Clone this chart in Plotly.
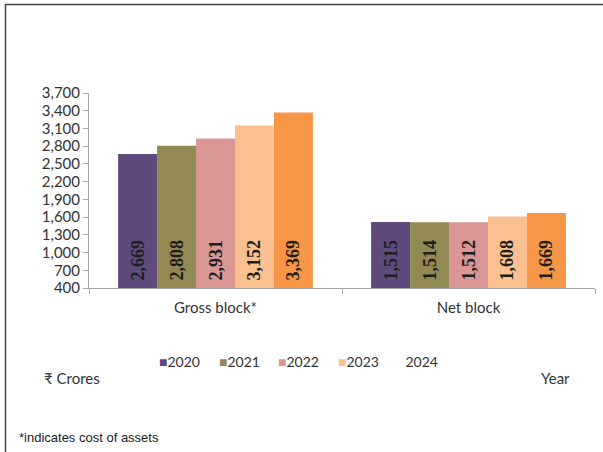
import plotly.graph_objects as go

categories = ["Gross block*", "Net block"]
years = ["2020", "2021", "2022", "2023", "2024"]
values = {
    "2020": [2669, 1515],
    "2021": [2808, 1514],
    "2022": [2931, 1512],
    "2023": [3152, 1608],
    "2024": [3369, 1669],
}
colors = ["#5f4a7b", "#938953", "#d99694", "#fac090", "#f79646"]
legend_swatch = [True, True, True, True, False]
tick_vals = [400, 700, 1000, 1300, 1600, 1900, 2200, 2500, 2800, 3100, 3400, 3700]
axis_min = 400

fig = go.Figure()
for yr, col in zip(years, colors):
    fig.add_trace(go.Bar(
        x=categories, y=[v - axis_min for v in values[yr]], base=axis_min, name=yr,
        marker=dict(color=col, line=dict(width=0)),
        text=["\u00a0" + f"{v:,}" for v in values[yr]],
        customdata=values[yr],
        hovertemplate="%{x}<br>" + yr + ": %{customdata:,}<extra></extra>",
        textposition="inside", insidetextanchor="start", textangle=-90,
        constraintext="none",
        textfont=dict(family="Liberation Serif", size=18, color="#1e1e1e", weight="bold"),
        showlegend=False,
    ))

L, R, T, B = 89, 8, 93, 164
W, H = 603, 452
pw, ph = W - L - R, H - T - B

def px_x(p):
    return (p - L) / pw

def px_y(p):
    return (H - B - p) / ph

fig.update_layout(
    width=W, height=H,
    margin=dict(l=L, r=R, t=T, b=B, autoexpand=False),
    paper_bgcolor="white", plot_bgcolor="white",
    barmode="group", bargap=0.23, bargroupgap=0,
    font=dict(family="Lato", color="#333333", size=14),
    showlegend=False,
    xaxis=dict(
        showline=True, linecolor="#a6a6a6", linewidth=1,
        ticks="outside", tickson="boundaries", ticklen=5, tickcolor="#a6a6a6",
        tickfont=dict(size=15, color="#333333"), showgrid=False,
        ticklabelstandoff=6,
    ),
    yaxis=dict(
        range=[axis_min, 3700], tickvals=tick_vals, tickformat=",d",
        showline=True, linecolor="#a6a6a6", linewidth=1,
        ticks="outside", ticklen=5, tickcolor="#a6a6a6",
        tickfont=dict(size=15, color="#333333"), showgrid=False, zeroline=False,
    ),
)

# legend drawn as text items (2024 has no swatch in the reference)
legend_x = [157, 217, 276, 336, 395]
for yr, col, sw, lx in zip(years, colors, legend_swatch, legend_x):
    swatch = f"<span style='color:{col if sw else 'rgba(0,0,0,0)'}'>■</span>"
    fig.add_annotation(text=swatch + yr, xref="paper", yref="paper", x=px_x(lx), y=px_y(361),
                       xanchor="left", yanchor="middle", showarrow=False,
                       font=dict(size=14, color="#333333"))

fig.add_annotation(text="₹ Crores", xref="paper", yref="paper", x=px_x(42), y=px_y(378),
                   xanchor="left", yanchor="middle", showarrow=False,
                   font=dict(size=15, color="#333333"))
fig.add_annotation(text="Year", xref="paper", yref="paper", x=px_x(572), y=px_y(378),
                   xanchor="right", yanchor="middle", showarrow=False,
                   font=dict(size=15, color="#333333"))
fig.add_annotation(text="*indicates cost of assets", xref="paper", yref="paper", x=px_x(17), y=px_y(437),
                   xanchor="left", yanchor="middle", showarrow=False,
                   font=dict(size=13, color="#222222", family="Liberation Sans Narrow, Liberation Sans"))

# frame border (top and left)
fig.add_shape(type="line", xref="paper", yref="paper", x0=px_x(5), x1=px_x(620), y0=px_y(4.5), y1=px_y(4.5),
              line=dict(color="#444444", width=1.5), layer="above")
fig.add_shape(type="line", xref="paper", yref="paper", x0=px_x(5.5), x1=px_x(5.5), y0=px_y(4), y1=px_y(470),
              line=dict(color="#444444", width=1.5), layer="above")

fig.write_html("out.html", config={"displayModeBar": False},
               post_script="document.body.style.margin='0';")
